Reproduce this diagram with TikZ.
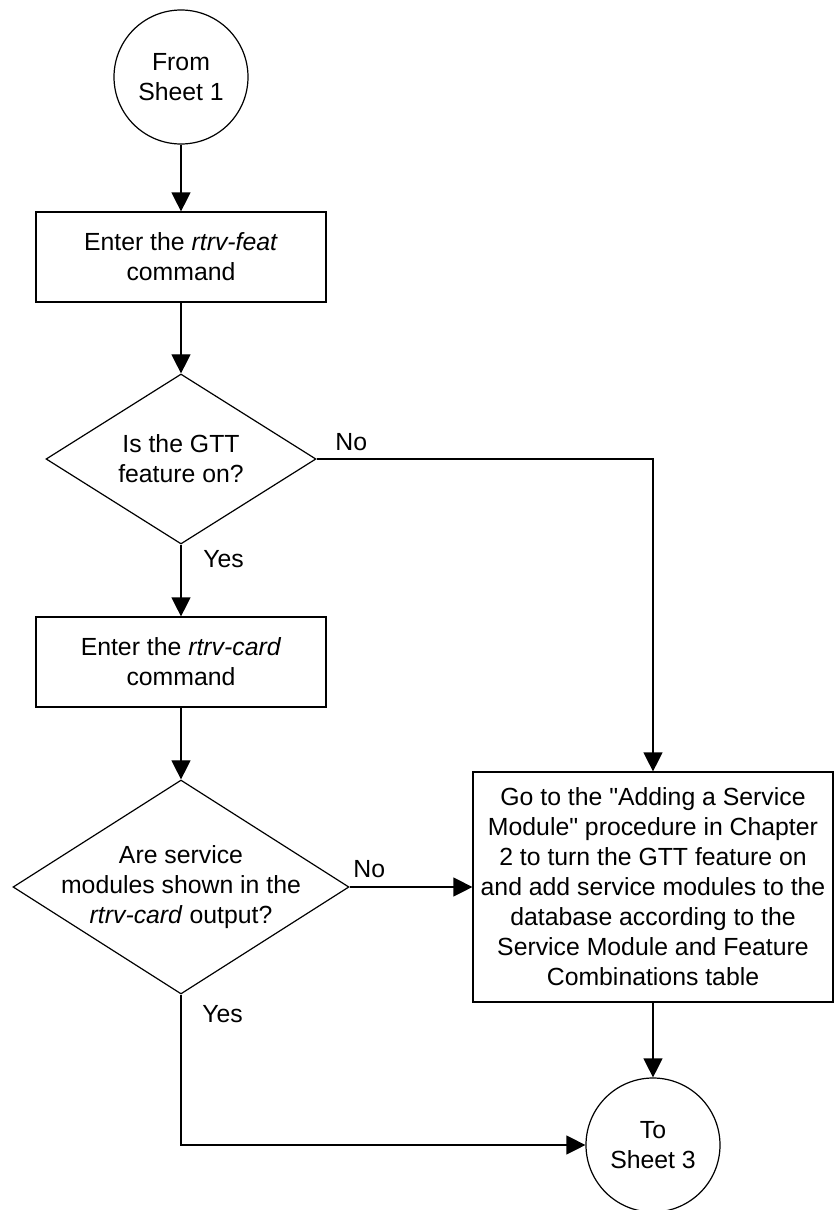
\documentclass[tikz,border=0pt]{standalone}
\usepackage{fontspec}
\setmainfont{Liberation Sans}
\usetikzlibrary{shapes.geometric,arrows.meta}

\begin{document}
\begin{tikzpicture}[x=0.5pt,y=-0.5pt,
  every node/.style={font=\fontsize{12.4pt}{15pt}\selectfont},
  line/.style={line width=0.6pt},
  flow/.style={line, -{Triangle[length=9.5pt,width=9.5pt]}},
  connector/.style={draw, circle, line, minimum size=67pt, inner sep=0pt, align=center},
  process/.style={draw, rectangle, line, minimum width=145pt, minimum height=45pt, inner sep=2pt, align=center},
  decision/.style={draw, diamond, line, inner sep=0pt},
  answer/.style={anchor=base west, inner sep=0pt}]
% Frame of the sheet
\useasboundingbox (0,0) rectangle (834,1210);

% Flowchart shapes
\node[connector] (fromsheet) at (181,77) {From\\Sheet 1};
\node[process] (rtrvfeat) at (181,257) {Enter the \textit{rtrv-feat}\\command};
\node[decision, minimum width=135pt, minimum height=85pt] (gttq) at (181,459) {};
\node[align=center] (gttqtext) at (gttq) {Is the GTT\\feature on?};
\node[process] (rtrvcard) at (181,662) {Enter the \textit{rtrv-card}\\command};
\node[decision, minimum width=168pt, minimum height=107pt] (smq) at (181,887) {};
\node[align=center] (smqtext) at (smq) {Are service\\modules shown in the\\\textit{rtrv-card} output?};
\node[process, minimum width=180pt, minimum height=115pt] (addsm) at (653,887) {Go to the \textquotedbl{}Adding a Service\\Module\textquotedbl{} procedure in Chapter\\2 to turn the GTT feature on\\and add service modules to the\\database according to the\\Service Module and Feature\\Combinations table};
\node[connector] (tosheet) at (653,1145) {To\\Sheet 3};

% Answers
\node[answer] (gttno) at (335,450) {No};
\node[answer] (gttyes) at (203,567) {Yes};
\node[answer] (smno) at (353,877) {No};
\node[answer] (smyes) at (202,1022) {Yes};

% Connecting arrows
\draw[flow] (fromsheet) -- (rtrvfeat);
\draw[flow] (rtrvfeat) -- (gttq);
\draw[flow] (gttq.east) -| (addsm.north);
\draw[flow] (gttq.south) -- (rtrvcard.north);
\draw[flow] (rtrvcard) -- (smq);
\draw[flow] (smq.east) -- (addsm.west);
\draw[flow] (addsm) -- (tosheet);
\draw[flow] (smq.south) |- (tosheet.west);
\end{tikzpicture}
\end{document}
